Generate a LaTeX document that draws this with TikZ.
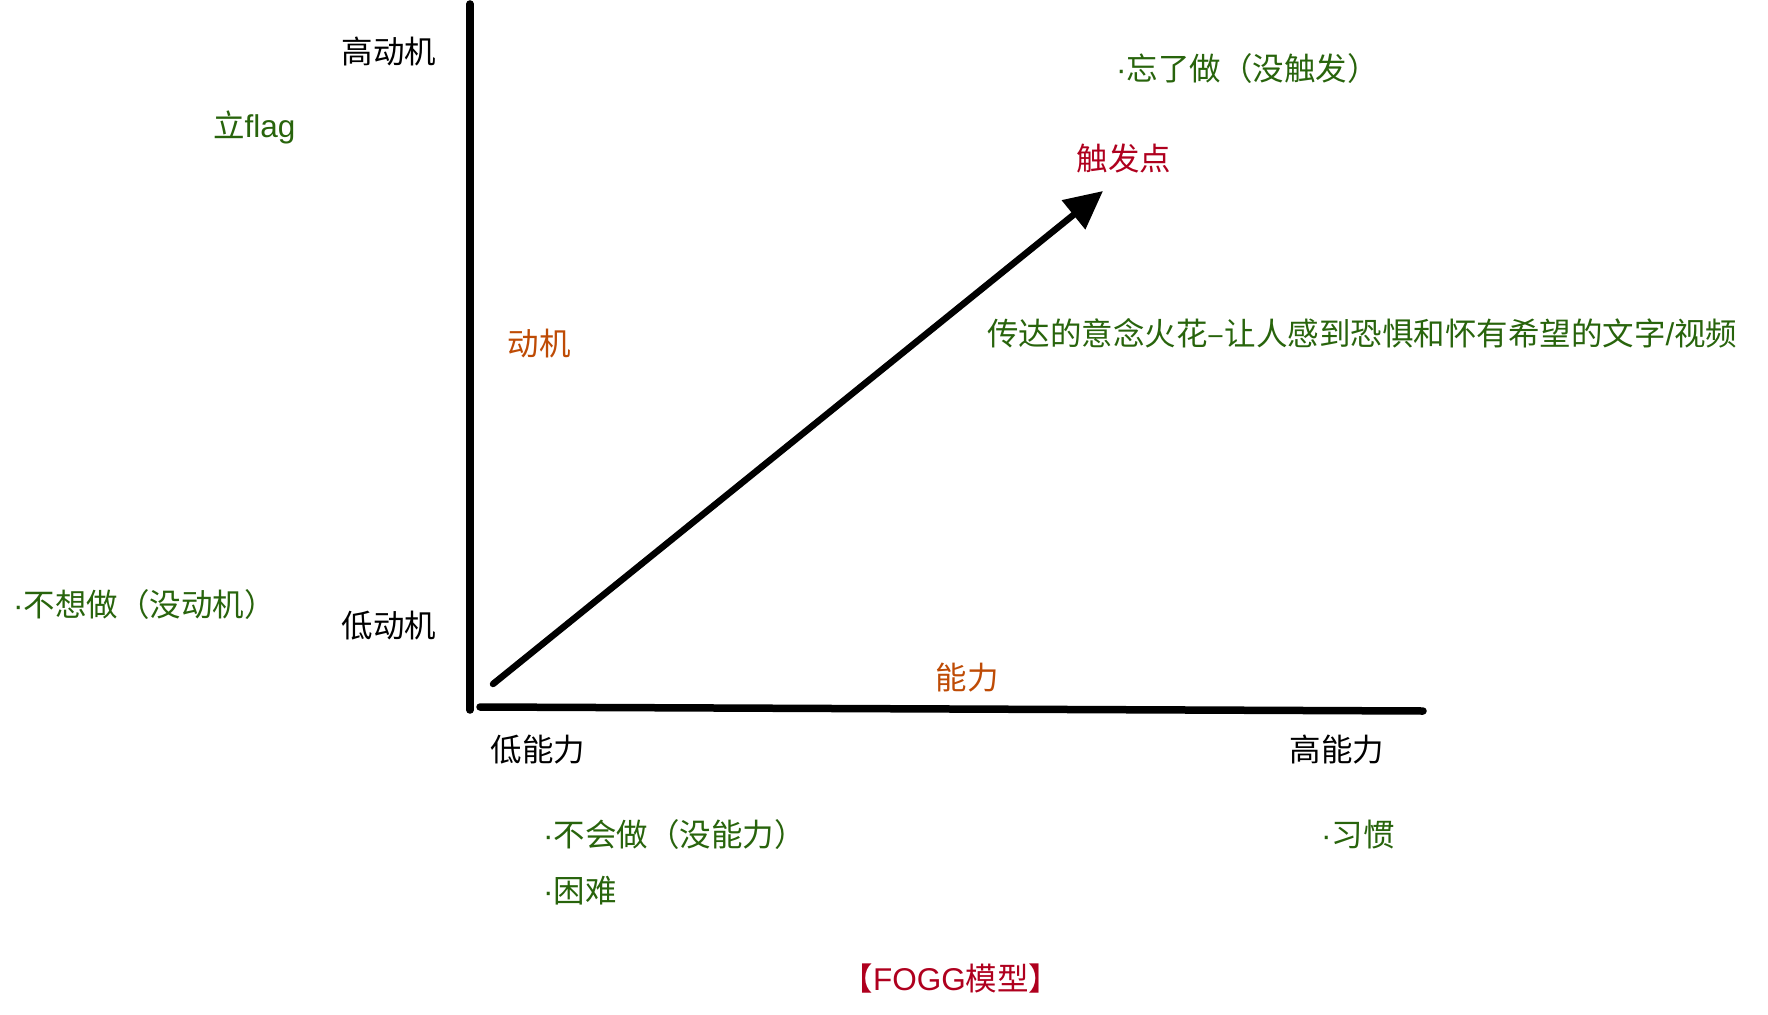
\documentclass[tikz,border=0pt]{standalone}
\usepackage{fontspec}
\setmainfont{Noto Sans CJK SC}
\newfontfamily\latin{Liberation Sans}
\usetikzlibrary{arrows.meta}

\definecolor{notegreen}{RGB}{40,100,12}
\definecolor{axisorange}{RGB}{190,75,5}
\definecolor{fograd}{RGB}{175,0,30}

\newcommand{\dotmark}{{\latin ·}}

\begin{document}
\begin{tikzpicture}[x=1pt, y=-1pt,
    every node/.style={font=\fontsize{31.5pt}{38pt}\selectfont, inner sep=0pt},
    note/.style={text=notegreen, anchor=west},
    axislabel/.style={text=axisorange},
    axisline/.style={line width=7.5pt, line cap=round}]
    \useasboundingbox (0,0) rectangle (1768,1014);

    % axes
    \coordinate (top) at (470,4);
    \coordinate (origin) at (470,710);
    \coordinate (xstart) at (480,707);
    \coordinate (xend) at (1423,711);
    \draw[axisline] (top) -- (origin);
    \draw[axisline] (xstart) -- (xend);

    % trigger arrow
    \coordinate (low) at (493,684);
    \coordinate (tip) at (1103,191);
    \draw[line width=6.5pt, line cap=round, -{Triangle[length=38pt,width=36pt]}] (low) -- (tip);

    % axis labels
    \node (highmot) at (389,51) {高动机};
    \node (lowmot) at (389,626) {低动机};
    \node (lowabl) at (538,750) {低能力};
    \node (highabl) at (1337,750) {高能力};
    \node[axislabel] (motivation) at (539,344) {动机};
    \node[axislabel] (ability) at (967,678) {能力};
    \node[text=fograd] (trigger) at (1124,159) {触发点};

    % notes
    \node[note] (flag) at (213,127) {立{\latin flag}};
    \node[note] (forgot) at (1116,69) {\dotmark 忘了做（没触发）};
    \node[note] (spark) at (987,333) {传达的意念火花–让人感到恐惧和怀有希望的文字{\latin /}视频};
    \node[note] (nowant) at (13,605) {\dotmark 不想做（没动机）};
    \node[note] (cannot) at (543,835) {\dotmark 不会做（没能力）};
    \node[note] (hard) at (543,891) {\dotmark 困难};
    \node[note] (habit) at (1321,835) {\dotmark 习惯};

    \node[text=fograd] (title) at (951,979) {【{\latin FOGG}模型】};
\end{tikzpicture}
\end{document}
